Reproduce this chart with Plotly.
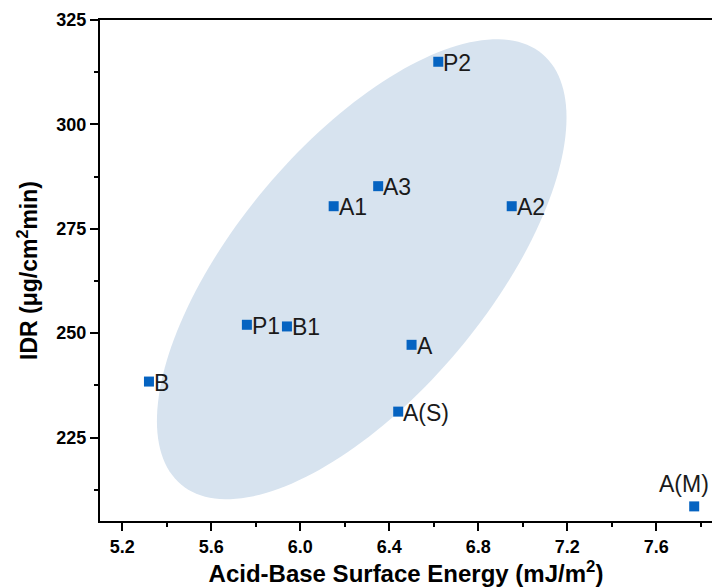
import numpy as np
import plotly.graph_objects as go

# ---- data ----
labels = ["P2", "A3", "A1", "A2", "P1", "B1", "A", "B", "A(S)", "A(M)"]
surface_energy = [6.62, 6.35, 6.15, 6.95, 5.76, 5.94, 6.50, 5.32, 6.44, 7.77]
idr = [315.0, 285.2, 280.4, 280.4, 252.0, 251.6, 247.2, 238.4, 231.2, 208.5]
label_above = [False] * 9 + [True]

x_ticks = [5.2, 5.6, 6.0, 6.4, 6.8, 7.2, 7.6]
y_ticks = [225, 250, 275, 300, 325]
x_range = [5.1, 7.85]
y_range = [205, 325]

# ellipse (highlight region): centre in data units, semi-axes in px, angle in deg
ell_center = (6.276, 265.3)
ell_axes_px = (281, 126)
ell_angle_deg = 50

W, H = 712, 587
margin = dict(l=100, r=0, t=20, b=66)
plot_w = W - margin["l"] - margin["r"]
plot_h = H - margin["t"] - margin["b"]
sx = plot_w / (x_range[1] - x_range[0])
sy = plot_h / (y_range[1] - y_range[0])

t = np.linspace(0, 2 * np.pi, 181)
th = np.deg2rad(ell_angle_deg)
a, b = ell_axes_px
dx = a * np.cos(t) * np.cos(th) - b * np.sin(t) * np.sin(th)
dy = a * np.cos(t) * np.sin(th) + b * np.sin(t) * np.cos(th)
ex = ell_center[0] + dx / sx
ey = ell_center[1] + dy / sy
path = "M " + " L ".join(f"{x:.5f},{y:.4f}" for x, y in zip(ex, ey)) + " Z"

FONT = "Arial, Liberation Sans, sans-serif"

fig = go.Figure()
fig.add_trace(go.Scatter(
    x=surface_energy, y=idr, mode="markers",
    marker=dict(symbol="square", size=10, color="#0563C1"),
    cliponaxis=False, showlegend=False,
))

for lab, xv, yv, above in zip(labels, surface_energy, idr, label_above):
    if above:
        fig.add_annotation(x=xv, y=yv, text=lab, showarrow=False,
                           xanchor="center", yanchor="bottom", xshift=-10, yshift=7,
                           font=dict(family=FONT, size=23, color="#1a1a1a"))
    else:
        fig.add_annotation(x=xv, y=yv, text=lab, showarrow=False,
                           xanchor="left", yanchor="middle", xshift=3, yshift=-1,
                           font=dict(family=FONT, size=23, color="#1a1a1a"))

fig.add_shape(type="path", path=path, xref="x", yref="y",
              fillcolor="#D7E3EF", line=dict(width=0), layer="below")

fig.update_layout(
    width=W, height=H, margin=margin,
    paper_bgcolor="white", plot_bgcolor="white",
    font=dict(family=FONT, color="black"),
)
fig.update_xaxes(
    range=x_range, tickvals=x_ticks, ticktext=[f"{v:.1f}" for v in x_ticks],
    showgrid=False, zeroline=False,
    showline=True, linecolor="black", linewidth=2, mirror=True,
    ticks="outside", ticklen=8, tickwidth=2, tickcolor="black",
    tickfont=dict(family=FONT, size=18, color="black", weight="bold"),
    minor=dict(ticks="outside", ticklen=4, tickwidth=2, tickcolor="black", dtick=0.2, tick0=5.2),
    title=dict(text="<b>Acid-Base Surface Energy (mJ/m<sup>2</sup>)</b>",
               font=dict(family=FONT, size=24, color="black"), standoff=6),
)
fig.update_yaxes(
    range=y_range, tickvals=y_ticks,
    showgrid=False, zeroline=False,
    showline=True, linecolor="black", linewidth=2, mirror=False,
    ticks="outside", ticklen=8, tickwidth=2, tickcolor="black",
    tickfont=dict(family=FONT, size=18, color="black", weight="bold"),
    minor=dict(ticks="outside", ticklen=4, tickwidth=2, tickcolor="black", dtick=12.5, tick0=200),
    title=dict(text="<b>IDR (μg/cm<sup>2</sup>min)</b>",
               font=dict(family=FONT, size=23, color="black"), standoff=12),
)

fig.write_html("out.html")
